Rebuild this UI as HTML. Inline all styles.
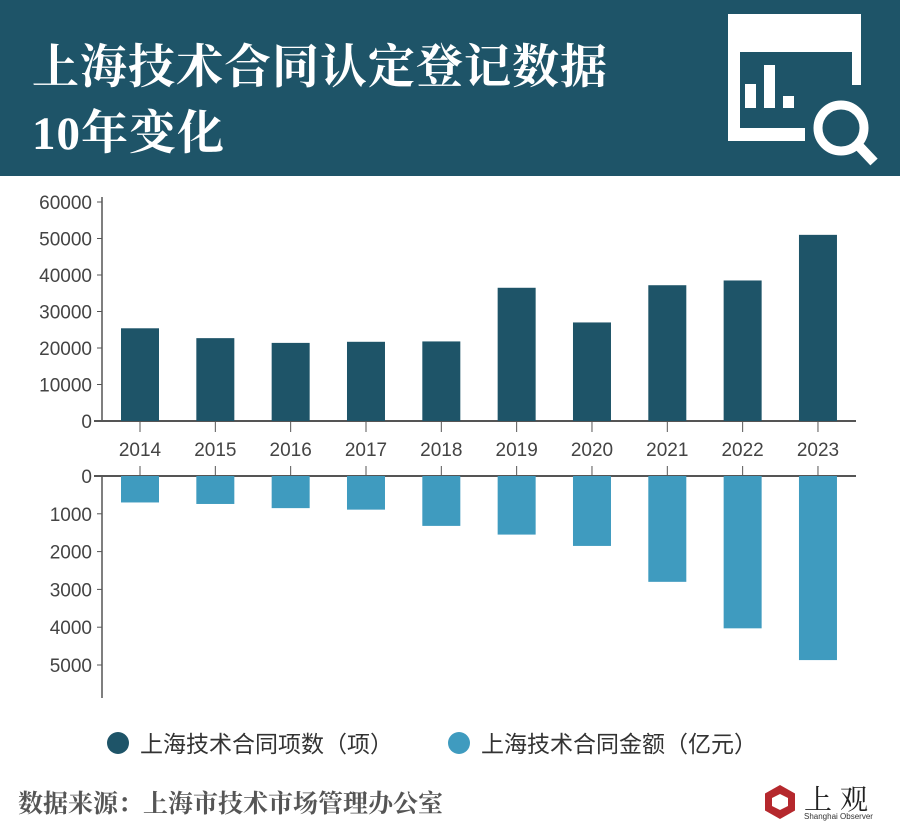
<!DOCTYPE html>
<html><head><meta charset="utf-8"><style>
body{margin:0;width:900px;height:839px;background:#fff;overflow:hidden;font-family:"Liberation Sans","Noto Sans CJK SC",sans-serif}
#hdr{position:absolute;left:0;top:0;width:900px;height:176px;background:#1e5468}
.t{position:absolute;left:32px;color:#fff;font-family:"Liberation Serif","Noto Serif CJK SC",serif;font-weight:bold;font-size:47px;letter-spacing:1px}
</style></head><body>
<div id="hdr">
<div class="t" style="top:30px">上海技术合同认定登记数据</div>
<div class="t" style="top:96px">10年变化</div>
<svg style="position:absolute;left:700px;top:0" width="200" height="176">
<path d="M28 14 H161 V85 L152 85 V52 H40 V128 H105 V141 H28 Z" fill="#fff"/>
<rect x="45" y="84" width="11" height="24" fill="#fff"/><rect x="64" y="65" width="11" height="43" fill="#fff"/><rect x="83" y="96" width="11" height="12" fill="#fff"/>
<circle cx="141" cy="128" r="23" fill="none" stroke="#fff" stroke-width="9"/>
<line x1="157" y1="144" x2="174" y2="162" stroke="#fff" stroke-width="10"/>
</svg></div>
<svg id="chart" width="900" height="839" style="position:absolute;left:0;top:0"></svg>
<div style="position:absolute;left:18px;top:784px;font-size:25px;font-weight:bold;color:#555;font-family:'Liberation Serif','Noto Serif CJK SC',serif">数据来源：上海市技术市场管理办公室</div>
<div style="position:absolute;left:762px;top:780px;width:130px;height:45px">
<svg width="36" height="36" style="position:absolute;left:0;top:4px"><polygon points="18,1 33,9.5 33,26.5 18,35 3,26.5 3,9.5" fill="#b5282d"/><polygon points="18,10 26,14 26,22 18,26 10,22 10,14" fill="#fff"/></svg>
<div style="position:absolute;left:42px;top:-2px;font-size:28px;color:#222;font-family:'Noto Serif CJK SC',serif;letter-spacing:8px">上观</div>
<div style="position:absolute;left:42px;top:32px;font-size:8px;color:#333">Shanghai Observer</div></div>
<script>
const years=["2014","2015","2016","2017","2018","2019","2020","2021","2022","2023"];
const counts=[25400,22700,21400,21700,21800,36500,27000,37200,38500,51000];
const amounts=[700,740,850,890,1320,1550,1850,2800,4030,4870];
const topTicks=[0,10000,20000,30000,40000,50000,60000];
const botTicks=[0,1000,2000,3000,4000,5000];
const svg=document.getElementById('chart');const NS='http://www.w3.org/2000/svg';
function mk(t,a,p){const e=document.createElementNS(NS,t);for(const k in a)e.setAttribute(k,a[k]);(p||svg).appendChild(e);return e;}
const ax=102,x0=140,step=75.33,bw=38;
const xPos=i=>x0+i*step;
const yTop=v=>421-v*(219/60000);
const yBot=v=>476+v*(37.8/1000);
let e;
e=mk('line',{x1:ax,y1:197,x2:ax,y2:421,stroke:'#555','stroke-width':1.5});
e=mk('line',{x1:94,y1:421,x2:856,y2:421,stroke:'#555','stroke-width':2});
e=mk('line',{x1:ax,y1:476,x2:ax,y2:698,stroke:'#555','stroke-width':1.5});
e=mk('line',{x1:94,y1:476,x2:856,y2:476,stroke:'#555','stroke-width':2});
topTicks.forEach(v=>{const y=yTop(v);mk('line',{x1:97,y1:y,x2:ax,y2:y,stroke:'#555'});
e=mk('text',{x:92,y:y+7,'text-anchor':'end','font-size':19,fill:'#444'});e.textContent=v;});
botTicks.forEach(v=>{const y=yBot(v);mk('line',{x1:97,y1:y,x2:ax,y2:y,stroke:'#555'});
e=mk('text',{x:92,y:y+7,'text-anchor':'end','font-size':19,fill:'#444'});e.textContent=v;});
years.forEach((yr,i)=>{const x=xPos(i);
e=mk('rect',{x:x-bw/2,y:yTop(counts[i]),width:bw,height:421-yTop(counts[i]),fill:'#1e5468'});
e=mk('rect',{x:x-bw/2,y:476,width:bw,height:yBot(amounts[i])-476,fill:'#3f9bbf'});
mk('line',{x1:x,y1:421,x2:x,y2:432,stroke:'#555'});mk('line',{x1:x,y1:466,x2:x,y2:476,stroke:'#555'});
e=mk('text',{x:x,y:456,'text-anchor':'middle','font-size':19,fill:'#444'});e.textContent=yr;});
e=mk('circle',{cx:118,cy:743,r:11,fill:'#1e5468'});
e=mk('text',{x:140,y:752,'font-size':23,fill:'#333'});e.textContent='上海技术合同项数（项）';
e=mk('circle',{cx:459,cy:743,r:11,fill:'#3f9bbf'});
e=mk('text',{x:481,y:752,'font-size':23,fill:'#333'});e.textContent='上海技术合同金额（亿元）';
</script></body></html>
